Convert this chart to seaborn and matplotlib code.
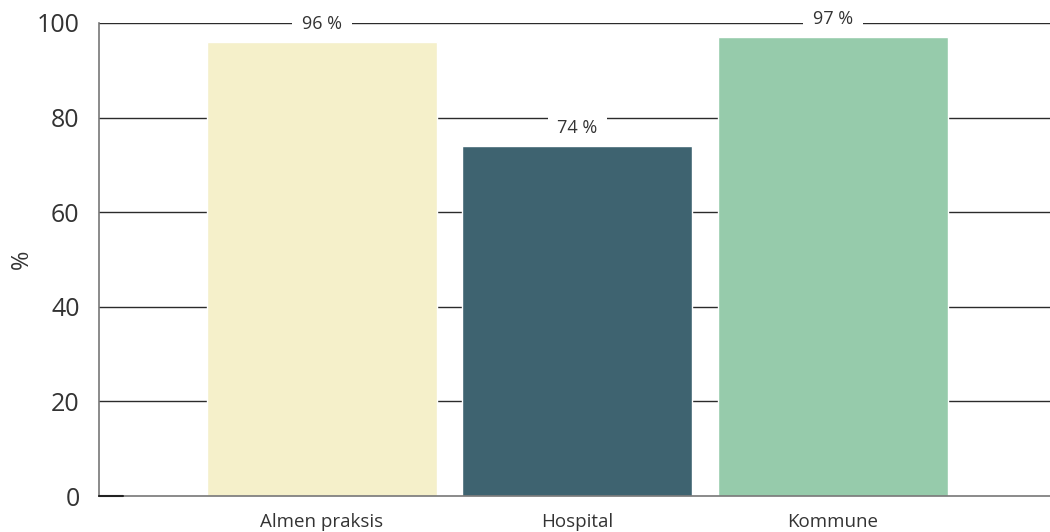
import pandas
import seaborn
import matplotlib.pyplot as pyplot

seaborn.set_style("white")
pyplot.rcParams["font.family"] = ["Open Sans", "DejaVu Sans"]

Categories = ["Almen praksis", "Hospital", "Kommune"]
Percent = [96, 74, 97]
BarLabels = ["96 %", "74 %", "97 %"]
Colors = ["#F5F0CA", "#3E6370", "#96CBAB"]
YTicks = [0, 20, 40, 60, 80, 100]

Data = pandas.DataFrame({"Category": Categories, "Percent": Percent})

fig = pyplot.figure(figsize=(10.5, 5.32), dpi=100)
ax = fig.add_axes([99 / 1050, 36 / 532, 951 / 1050, 473 / 532])

for y in YTicks[1:]:
    ax.axhline(y, color="#2b2b2b", linewidth=1.0, zorder=0)

seaborn.barplot(data=Data, x="Category", y="Percent", hue="Category", palette=Colors,
                width=0.9, saturation=1, legend=False, ax=ax, zorder=2)

for i, (value, text) in enumerate(zip(Percent, BarLabels)):
    ax.text(i, value + 1.9, text, ha="center", va="bottom", fontsize=13, color="#333333",
            bbox=dict(facecolor="white", edgecolor="none", pad=7), zorder=3)

ax.set_xlim(-0.873, 2.85)
ax.set_ylim(0, 100)
ax.set_yticks(YTicks)
ax.tick_params(axis="y", labelsize=18, colors="#333333", length=0, pad=14)
ax.tick_params(axis="x", labelsize=13.5, colors="#333333", length=0, pad=12)
ax.set_xlabel("")
ax.set_ylabel("%", fontsize=17, color="#333333")
ax.yaxis.set_label_coords(-0.068, 0.5)

for side in ["top", "right"]:
    ax.spines[side].set_visible(False)
ax.spines["left"].set_color("#777777")
ax.spines["left"].set_linewidth(1.2)
ax.spines["bottom"].set_color("#777777")
ax.spines["bottom"].set_linewidth(1.2)
ax.plot([-0.873, -0.78], [0, 0], color="#222222", linewidth=1.5, clip_on=False, zorder=4)

fig.savefig("out.png", dpi=100)
